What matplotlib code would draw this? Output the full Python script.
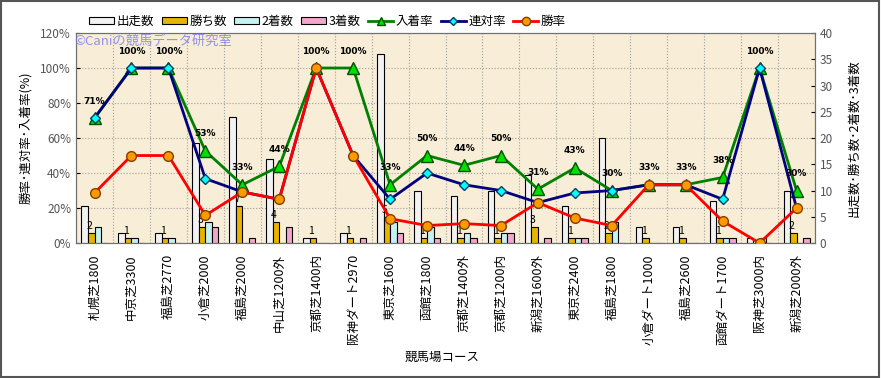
import matplotlib.pyplot as plt
from matplotlib.patches import Patch
from matplotlib.lines import Line2D
import numpy as np

plt.rcParams['font.family'] = ['Noto Sans CJK JP', 'DejaVu Sans']

# Course names (x axis)
courses = ['札幌芝1800', '中京芝3300', '福島芝2770', '小倉芝2000', '福島芝2000',
           '中山芝1200外', '京都芝1400内', '阪神ダート2970', '東京芝1600', '函館芝1800',
           '京都芝1400外', '京都芝1200内', '新潟芝1600外', '東京芝2400', '福島芝1800',
           '小倉ダート1000', '福島芝2600', '函館ダート1700', '阪神芝3000内', '新潟芝2000外']

# Counts (right axis)
starts = [7, 2, 2, 19, 24, 16, 1, 2, 36, 10, 9, 10, 13, 7, 20, 3, 3, 8, 1, 10]
wins = [2, 1, 1, 3, 7, 4, 1, 1, 5, 1, 1, 1, 3, 1, 2, 1, 1, 1, 0, 2]
seconds = [3, 1, 1, 4, 0, 0, 0, 0, 4, 3, 2, 2, 0, 1, 4, 0, 0, 1, 1, 0]
thirds = [0, 0, 0, 3, 1, 3, 0, 1, 2, 1, 1, 2, 1, 1, 0, 0, 0, 1, 0, 1]

# Rates in % (left axis)
win_rate = [28.6, 50, 50, 15.8, 29.2, 25, 100, 50, 13.9, 10, 11.1, 10, 23.1, 14.3, 10, 33.3, 33.3, 12.5, 0, 20]
rentai_rate = [71.4, 100, 100, 36.8, 29.2, 25, 100, 50, 25, 40, 33.3, 30, 23.1, 28.6, 30, 33.3, 33.3, 25, 100, 20]
nyuchaku_rate = [71.4, 100, 100, 52.6, 33.3, 43.8, 100, 100, 33.3, 50, 44.4, 50, 30.8, 42.9, 30, 33.3, 33.3, 37.5, 100, 30]

fig = plt.figure(figsize=(8.81, 3.78), dpi=100)
fig.patch.set_facecolor('white')
# grey outer border
fig.add_artist(plt.Rectangle((0.001, 0.002), 0.997, 0.995, transform=fig.transFigure,
                             fill=False, edgecolor='#555555', linewidth=1.5))

ax = fig.add_axes([0.0863, 0.357, 0.8388, 0.5557])  # bars, count axis
ax2 = ax.twinx()  # lines, rate axis

x = np.arange(len(courses))
w = 0.176

# horizontal grid at every 20% (drawn behind the bars)
for k in range(1, 6):
    ax.axhline(k * 40 / 6, linestyle=':', color='#A0A0A0', linewidth=0.8, zorder=1)

bar_colors = ['#F2F2F2', '#E8B400', '#C4F2F0', '#F2A6CC']
bar_data = [starts, wins, seconds, thirds]
for k, (vals, col) in enumerate(zip(bar_data, bar_colors)):
    ax.bar(x + (k - 1.5) * w, vals, w, color=col, edgecolor='black', linewidth=0.8, zorder=3)

# win count labels
for i, v in enumerate(wins):
    if v > 0:
        ax.annotate(str(v), (x[i] - 0.5 * w - 0.05, v), textcoords='offset pixels', xytext=(0, 2),
                    ha='center', va='bottom', fontsize=7.5, zorder=4)

ax.set_facecolor('#F8EDD6')
ax.set_xlim(-0.5, len(courses) - 0.5)
ax.set_ylim(0, 40)
ax.set_yticks(range(0, 41, 5))
ax.yaxis.tick_right()
ax.yaxis.set_label_position('right')
ax.set_ylabel('出走数･勝ち数･2着数･3着数', fontsize=9, rotation=90, labelpad=10)
ax.set_xticks(x)
ax.set_xticklabels(courses, rotation=90, fontsize=9)
ax.set_xticks(np.arange(-0.5, len(courses), 1), minor=True)
ax.tick_params(axis='x', which='both', length=0, pad=8)
ax.tick_params(axis='y', direction='in', length=3, labelsize=8.5, labelcolor='#555555')
ax.grid(axis='x', which='minor', linestyle=':', color='#A0A0A0', linewidth=0.8, zorder=1)
ax.set_xlabel('競馬場コース', fontsize=9)
ax.xaxis.set_label_coords(0.495, -0.545)
ax.xaxis.label.set_va('center')

# rate lines
ax2.plot(x, nyuchaku_rate, color='#008000', linewidth=2, marker='^', markersize=8,
         markerfacecolor='#00E000', markeredgecolor='#005000', zorder=3)
ax2.plot(x, rentai_rate, color='#000080', linewidth=2, marker='D', markersize=5.5,
         markerfacecolor='#00FFFF', markeredgecolor='#004060', zorder=4)
ax2.plot(x, win_rate, color='#FF0000', linewidth=2, marker='o', markersize=7,
         markerfacecolor='#FF9900', markeredgecolor='#804000', zorder=5)

for i, v in enumerate(nyuchaku_rate):
    ax2.annotate(f'{round(v)}%', (x[i], v), textcoords='offset pixels', xytext=(0, 17),
                 ha='center', va='center', fontsize=6.5, fontweight='bold', zorder=6,
                 family='DejaVu Sans')

ax2.set_ylim(0, 120)
ax2.set_yticks(range(0, 121, 20))
ax2.set_yticklabels([f'{v}%' for v in range(0, 121, 20)])
ax2.yaxis.tick_left()
ax2.yaxis.set_label_position('left')
ax2.set_ylabel('勝率･連対率･入着率(%)', fontsize=9, labelpad=6)
ax2.tick_params(axis='y', direction='in', length=3, labelsize=8.5, labelcolor='#555555')

for a in (ax, ax2):
    for s in a.spines.values():
        s.set_color('#707070')

# watermark
ax2.text(-0.003, 0.958, '©Caniの競馬データ研究室', transform=ax2.transAxes, fontsize=9.5,
         color='#7A7AF0', alpha=0.8, va='center', ha='left', zorder=7)

# legend
handles = [Patch(facecolor=c, edgecolor='black', linewidth=0.8) for c in bar_colors]
handles += [Line2D([], [], color='#008000', linewidth=2, marker='^', markersize=6,
                   markerfacecolor='#00E000', markeredgecolor='#005000'),
            Line2D([], [], color='#000080', linewidth=2, marker='D', markersize=4.5,
                   markerfacecolor='#00FFFF', markeredgecolor='#004060'),
            Line2D([], [], color='#FF0000', linewidth=2, marker='o', markersize=6,
                   markerfacecolor='#FF9900', markeredgecolor='#804000')]
labels = ['出走数', '勝ち数', '2着数', '3着数', '入着率', '連対率', '勝率']
fig.legend(handles, labels, loc='center', bbox_to_anchor=(0.372, 0.944), ncol=7, frameon=False,
           fontsize=9, handlelength=2.0, handleheight=0.5, handletextpad=0.2, columnspacing=0.6)

fig.savefig('out.png', dpi=100)
